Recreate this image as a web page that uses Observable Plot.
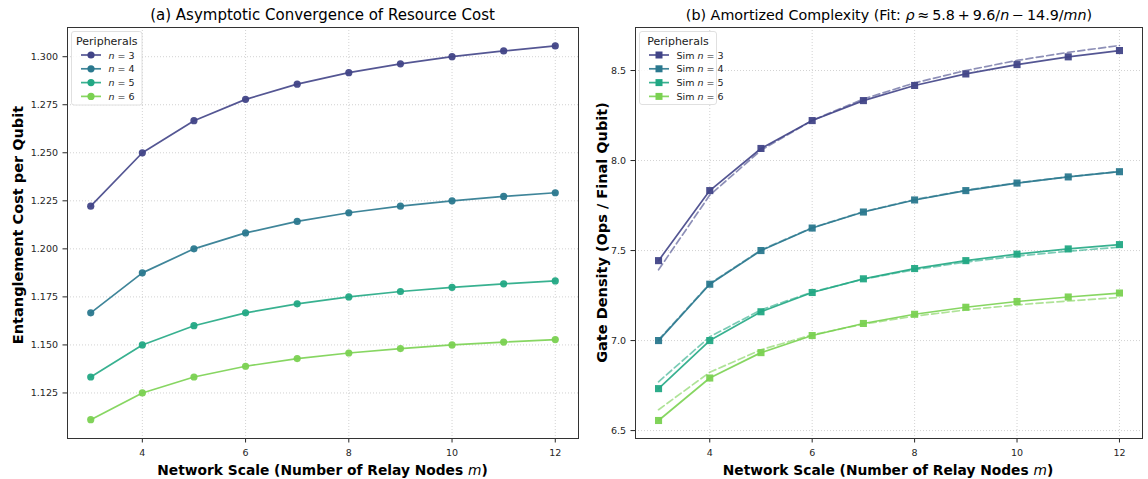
<!DOCTYPE html>
<html><head><meta charset="utf-8">
<script src="https://cdn.jsdelivr.net/npm/d3@7"></script>
<script src="https://cdn.jsdelivr.net/npm/@observablehq/plot@0.6"></script>
<style>
body{margin:0;background:#fff;font-family:"DejaVu Sans",sans-serif;}
#wrap{position:relative;width:1148px;height:479px;overflow:hidden;}
#wrap svg{position:absolute;top:0;overflow:visible;}
</style></head><body><div id="wrap"></div>
<script>
// ---- data ----
const relayNodes = [3, 4, 5, 6, 7, 8, 9, 10, 11, 12];
const peripherals = [3, 4, 5, 6];
const seriesColors = ["#414487", "#2a788e", "#22a884", "#7ad151"];

// (a) entanglement cost per qubit
const costN3 = [1.2222, 1.2500, 1.2667, 1.2778, 1.2857, 1.2917, 1.2963, 1.3000, 1.3030, 1.3056];
const costN4 = [1.1667, 1.1875, 1.2000, 1.2083, 1.2143, 1.2188, 1.2222, 1.2250, 1.2273, 1.2292];
const costN5 = [1.1333, 1.1500, 1.1600, 1.1667, 1.1714, 1.1750, 1.1778, 1.1800, 1.1818, 1.1833];
const costN6 = [1.1111, 1.1250, 1.1333, 1.1389, 1.1429, 1.1458, 1.1481, 1.1500, 1.1515, 1.1528];

// (b) gate density, simulation
const simN3 = [7.444, 7.833, 8.067, 8.222, 8.333, 8.417, 8.481, 8.533, 8.576, 8.611];
const simN4 = [7.000, 7.313, 7.500, 7.625, 7.714, 7.781, 7.833, 7.875, 7.909, 7.938];
const simN5 = [6.733, 7.000, 7.160, 7.267, 7.343, 7.400, 7.444, 7.480, 7.509, 7.533];
const simN6 = [6.556, 6.792, 6.933, 7.028, 7.095, 7.146, 7.185, 7.217, 7.242, 7.264];
// (b) gate density, fitted curve (dashed)
const fitN3 = [7.393, 7.808, 8.057, 8.223, 8.342, 8.431, 8.500, 8.556, 8.601, 8.639];
const fitN4 = [7.004, 7.316, 7.503, 7.627, 7.716, 7.783, 7.835, 7.876, 7.910, 7.939];
const fitN5 = [6.771, 7.021, 7.170, 7.270, 7.341, 7.394, 7.436, 7.469, 7.496, 7.519];
const fitN6 = [6.616, 6.824, 6.949, 7.032, 7.091, 7.136, 7.170, 7.198, 7.220, 7.239];

const xTicks = [4, 6, 8, 10, 12];
const costTicks = [1.125, 1.150, 1.175, 1.200, 1.225, 1.250, 1.275, 1.300];
const gateTicks = [6.5, 7.0, 7.5, 8.0, 8.5];

// ---- tables ----
function rows(seriesList) {
  return peripherals.flatMap((n, i) => relayNodes.map((m, j) => ({m, n, v: seriesList[i][j]})));
}
const costRows = rows([costN3, costN4, costN5, costN6]);
const simRows = rows([simN3, simN4, simN5, simN6]);
const fitRows = rows([fitN3, fitN4, fitN5, fitN6]);

const FONT = "DejaVu Sans, sans-serif";
const gridStyle = {stroke: "#b8b8b8", strokeOpacity: 0.8, strokeDasharray: "1,2", strokeWidth: 0.8};
const colorScale = {type: "ordinal", domain: peripherals, range: seriesColors};

function commonAxes(yTicks, yFmt) {
  return [
    Plot.axisX({ticks: xTicks, tickSize: 4.5, tickPadding: 6, label: null, fontSize: 9.5}),
    Plot.axisY({ticks: yTicks, tickFormat: yFmt, tickSize: 4.5, tickPadding: 5, label: null, fontSize: 9.5}),
    Plot.frame({stroke: "#333", strokeWidth: 1})
  ];
}

// ---- panel (a) ----
const left = Plot.plot({
  width: 590, height: 479,
  marginLeft: 67, marginRight: 12, marginTop: 27, marginBottom: 41,
  style: {fontFamily: FONT, fontSize: "9.5px", color: "#262626", background: "transparent"},
  x: {domain: [2.55, 12.45]},
  y: {domain: [1.1013, 1.3152]},
  color: colorScale,
  marks: [
    Plot.gridX(xTicks, gridStyle),
    Plot.gridY(costTicks, gridStyle),
    Plot.line(costRows, {x: "m", y: "v", z: "n", stroke: "n", strokeWidth: 1.7, strokeOpacity: 0.9}),
    Plot.dot(costRows, {x: "m", y: "v", fill: "n", r: 3.6, symbol: "circle", fillOpacity: 0.95}),
    ...commonAxes(costTicks, d3.format(".3f"))
  ]
});
left.style.left = "0px";

// ---- panel (b) ----
const right = Plot.plot({
  width: 558, height: 479,
  marginLeft: 45, marginRight: 6, marginTop: 27, marginBottom: 41,
  style: {fontFamily: FONT, fontSize: "9.5px", color: "#262626", background: "transparent"},
  x: {domain: [2.55, 12.45]},
  y: {domain: [6.456, 8.739]},
  color: colorScale,
  marks: [
    Plot.gridX(xTicks, gridStyle),
    Plot.gridY(gateTicks, gridStyle),
    Plot.line(simRows, {x: "m", y: "v", z: "n", stroke: "n", strokeWidth: 1.7, strokeOpacity: 0.9}),
    Plot.dot(simRows, {x: "m", y: "v", fill: "n", r: 4, symbol: "square", fillOpacity: 0.95}),
    Plot.line(fitRows, {x: "m", y: "v", z: "n", stroke: "n", strokeWidth: 1.7, strokeOpacity: 0.6, strokeDasharray: "7,3.5"}),
    ...commonAxes(gateTicks, d3.format(".1f"))
  ]
});
right.style.left = "590px";

const wrap = document.getElementById("wrap");
wrap.appendChild(left);
wrap.appendChild(right);

// ---- text helpers ----
function richText(svg, x, y, parts, opts = {}) {
  const t = d3.select(svg).append("text")
    .attr("x", x).attr("y", y)
    .attr("text-anchor", opts.anchor || "middle")
    .style("font-family", FONT)
    .style("font-size", (opts.size || 13) + "px")
    .style("font-weight", opts.weight || "normal")
    .attr("fill", opts.fill || "#000");
  if (opts.rotate) t.attr("transform", `rotate(-90 ${x} ${y})`);
  for (const p of parts) {
    const s = t.append("tspan").text(p.t);
    if (p.i) s.style("font-style", "italic").style("font-weight", "normal");
  }
  return t;
}

// titles
richText(left, 322.5, 20, [{t: "(a) Asymptotic Convergence of Resource Cost"}], {size: 15});
richText(right, 299, 20, [
  {t: "(b) Amortized Complexity (Fit: "}, {t: "ρ", i: true}, {t: "\u2009≈\u20095.8\u2009+\u20099.6/"}, {t: "n", i: true},
  {t: "\u2009−\u200914.9/"}, {t: "mn", i: true}, {t: ")"}
], {size: 14.3});

// axis labels
const xLabel = [{t: "Network Scale (Number of Relay Nodes "}, {t: "m", i: true}, {t: ")"}];
richText(left, 322.5, 475, xLabel, {size: 13.8, weight: "bold"});
richText(right, 298, 475, xLabel, {size: 13.8, weight: "bold"});
richText(left, 23, 225, [{t: "Entanglement Cost per Qubit"}], {size: 14.5, weight: "bold", rotate: true});
richText(right, 16.5, 232.5, [{t: "Gate Density (Ops / Final Qubit)"}], {size: 14.5, weight: "bold", rotate: true});

// legends
function legend(svg, x0, y0, w, h, labelPrefix, symbol) {
  const g = d3.select(svg).append("g").attr("text-anchor", "start");
  g.append("rect").attr("x", x0).attr("y", y0).attr("width", w).attr("height", h)
    .attr("rx", 2.5).attr("fill", "#fff").attr("fill-opacity", 0.85)
    .attr("stroke", "#d8d8d8").attr("stroke-width", 0.8);
  g.append("text").attr("x", x0 + w / 2).attr("y", y0 + 13.5).attr("text-anchor", "middle")
    .style("font-family", FONT).style("font-size", "11px").attr("fill", "#222").text("Peripherals");
  peripherals.forEach((n, i) => {
    const y = y0 + 23.5 + i * 13.8;
    const c = seriesColors[i];
    g.append("line").attr("x1", x0 + 9.5).attr("x2", x0 + 29.5).attr("y1", y).attr("y2", y)
      .attr("stroke", c).attr("stroke-width", 1.7).attr("stroke-opacity", 0.9);
    if (symbol === "circle") {
      g.append("circle").attr("cx", x0 + 19.5).attr("cy", y).attr("r", 3.6).attr("fill", c);
    } else {
      g.append("rect").attr("x", x0 + 19.5 - 3.5).attr("y", y - 3.5).attr("width", 7).attr("height", 7).attr("fill", c);
    }
    const t = g.append("text").attr("x", x0 + 37).attr("y", y + 3.5).attr("text-anchor", "start")
      .style("font-family", FONT).style("font-size", "9.5px").attr("fill", "#222");
    if (labelPrefix) t.append("tspan").text(labelPrefix);
    t.append("tspan").style("font-style", "italic").text("n");
    t.append("tspan").text(" = " + n);
  });
}
legend(left, 71.5, 31.5, 70.5, 73.5, "", "circle");
legend(right, 49.5, 31.5, 77, 73, "Sim ", "square");
</script>
</body></html>
